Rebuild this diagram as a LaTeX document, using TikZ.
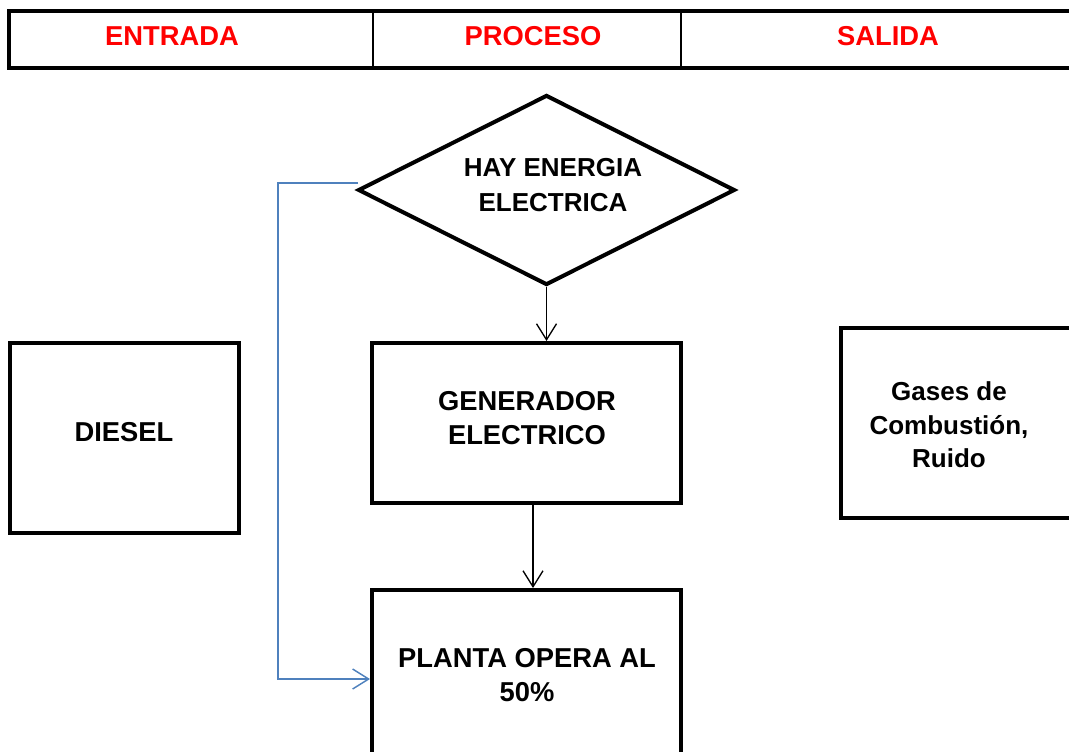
\documentclass[tikz,border=0pt]{standalone}
\usepackage{fontspec}
\setmainfont{Liberation Sans}
\usetikzlibrary{shapes.geometric,arrows.meta}
\definecolor{hdrred}{RGB}{255,0,0}
\definecolor{linkblue}{RGB}{79,129,189}
\begin{document}
\begin{tikzpicture}[x=0.75pt,y=-0.75pt,
  boxnode/.style={draw, line width=3pt, inner sep=0pt},
  cellnode/.style={draw, line width=1.6pt, inner sep=0pt, minimum height=55*0.75pt},
  hdrtext/.style={text=hdrred, font=\bfseries\fontsize{20.5}{27}\selectfont},
  bodytext/.style={font=\bfseries\fontsize{20.5}{26}\selectfont, align=center},
  flowarrow/.style={line width=1pt, -{Straight Barb[length=12pt,width=15pt,line width=1pt]}},
  linkarrow/.style={draw=linkblue, line width=1.1pt, -{Straight Barb[length=12pt,width=15pt,line width=1.1pt]}}]
\useasboundingbox (0,0) rectangle (1069,751);
\clip (0,0) rectangle (1069,751);
% header
\node[cellnode, minimum width=363*0.75pt] (cellin) at (191.5,39.5) {};
\node[cellnode, minimum width=308*0.75pt] (cellproc) at (527,39.5) {};
\node[cellnode, minimum width=400*0.75pt] (cellout) at (881,39.5) {};
\draw[line width=3.4pt] (cellin.north west) rectangle (cellout.south east);
\node[hdrtext] (tin) at (172,36) {ENTRADA};
\node[hdrtext] (tproc) at (533,36) {PROCESO};
\node[hdrtext] (tout) at (888,36) {SALIDA};
% diamond
\node[draw, line width=3pt, diamond, inner sep=0pt, minimum width=377*0.75pt, minimum height=190*0.75pt] (dia) at (546.5,190) {};
\node[bodytext, font=\bfseries\fontsize{19.5}{26}\selectfont] (diatxt) at (553,185) {HAY ENERGIA\\ELECTRICA};
% boxes
\node[boxnode, minimum width=229*0.75pt, minimum height=190*0.75pt] (diesel) at (124.5,438) {};
\node[bodytext] (dieseltxt) at (124,432) {DIESEL};
\node[boxnode, minimum width=309*0.75pt, minimum height=160*0.75pt] (gen) at (526.5,423) {};
\node[bodytext] (gentxt) at (527,418) {GENERADOR\\ELECTRICO};
\node[boxnode, minimum width=309*0.75pt, minimum height=175*0.75pt] (planta) at (526.5,677.5) {};
\node[bodytext, font=\bfseries\fontsize{20.5}{25}\selectfont] (plantatxt) at (527,675) {PLANTA OPERA AL\\50\%};
\node[boxnode, minimum width=240*0.75pt, minimum height=190*0.75pt] (gases) at (961,423) {};
\node[bodytext, font=\bfseries\fontsize{19.5}{25}\selectfont] (gasestxt) at (949,425) {Gases de\\Combustión,\\Ruido};
% connectors
\draw[flowarrow] (dia.south) -- (dia.south |- gen.north);
\draw[flowarrow] ([xshift=6.5*0.75pt]gen.south) -- ([xshift=6.5*0.75pt]planta.north);
\coordinate (linkcorner) at (278,183);
\draw[linkarrow] ([xshift=1.5pt]dia.west |- linkcorner) -- (linkcorner) |- (planta.west |- 0,679);
\end{tikzpicture}
\end{document}
